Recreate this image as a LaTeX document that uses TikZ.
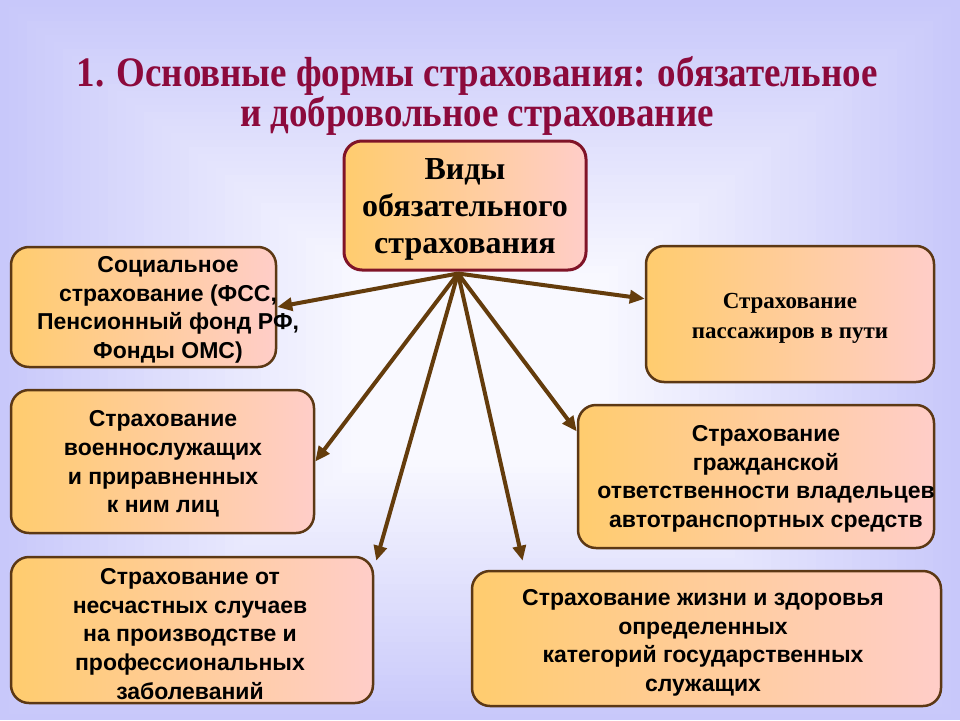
\documentclass[tikz,border=0pt]{standalone}
\usepackage{fontspec}
\setmainfont{Liberation Serif}
\setsansfont{Liberation Sans}
\newfontfamily\titlefont[FakeStretch=0.88]{Liberation Serif}
\usetikzlibrary{arrows.meta, positioning, calc}
\definecolor{boxleft}{RGB}{255,204,110}
\definecolor{boxright}{RGB}{255,205,200}
\definecolor{boxline}{RGB}{92,56,20}
\definecolor{hubline}{RGB}{128,20,40}
\definecolor{arrowc}{RGB}{100,60,12}
\definecolor{titlec}{RGB}{140,10,60}
\definecolor{bgout}{RGB}{200,200,250}
\definecolor{bgin}{RGB}{249,249,255}

\begin{document}
\begin{tikzpicture}[x=1pt, y=-1pt,
  box/.style={draw=boxline, line width=2.5pt, rounded corners=18pt,
              left color=boxleft, right color=boxright, inner sep=0pt},
  hubbox/.style={box, draw=hubline, line width=3pt},
  txt/.style={font=\sffamily\bfseries\fontsize{23}{28.6}\selectfont,
              align=center, inner sep=0pt},
  link/.style={draw=arrowc, line width=4pt, -{Triangle[length=15pt,width=13pt]}},
]
\useasboundingbox (0,0) rectangle (960,720);
% background
\foreach \i in {0,...,40}{
  \pgfmathsetmacro\mixv{100-2.5*\i}
  \fill[bgout!\mixv!bgin] ({\i*9},{\i*7}) rectangle ({960-\i*9},{720-\i*6.5});
}
\node[font=\titlefont\bfseries\fontsize{42}{39}\selectfont, text=titlec,
      align=center, inner sep=0pt] (title) at (477,96)
  {1. Основные формы страхования: обязательное\\и добровольное страхование};

% boxes
\node[hubbox, minimum width=242pt, minimum height=129pt] (ctr) at (465,205.5) {};
\node[box, minimum width=265pt, minimum height=120pt] (b1) at (143.5,307) {};
\node[box, minimum width=303pt, minimum height=143pt] (b2) at (162.5,461.5) {};
\node[box, minimum width=362pt, minimum height=146pt] (b3) at (192,630) {};
\node[box, minimum width=288pt, minimum height=136pt] (b4) at (790,314) {};
\node[box, minimum width=356pt, minimum height=143pt] (b5) at (756,476.5) {};
\node[box, minimum width=469pt, minimum height=135pt] (b6) at (706.5,638.5) {};

% texts
\node[align=center, inner sep=0pt, font=\bfseries\fontsize{32}{37}\selectfont] (tc) at (465,209)
  {Виды\\обязательного\\страхования};
\node[txt] (t1) at (168,310) {Социальное\\страхование (ФСС,\\Пенсионный фонд РФ,\\Фонды ОМС)};
\node[txt] (t2) at (163,464) {Страхование\\военнослужащих\\и приравненных\\к ним лиц};
\node[txt] (t3) at (190,634) {Страхование от\\несчастных случаев\\на производстве и\\профессиональных\\заболеваний};
\node[align=center, inner sep=0pt, font=\bfseries\fontsize{23}{30}\selectfont] (t4) at (790,318)
  {Страхование\\пассажиров в пути};
\node[txt] (t5) at (766,479) {Страхование\\гражданской\\ответственности владельцев\\автотранспортных средств};
\node[txt] (t6) at (703,643) {Страхование жизни и здоровья\\определенных\\категорий государственных\\служащих};

% arrows
\coordinate (hub) at ($(ctr.south)+(-7,2)$);
\draw[link] (hub) -- (b1.east);
\draw[link] (hub) -- ($(b4.north west)!0.39!(b4.south west)$);
\draw[link] (hub) -- (b2.east);
\draw[link] (hub) -- ($(b5.north west)!0.19!(b5.south west)$);
\draw[link] (hub) -- ([xshift=2pt,yshift=-5pt]b3.north east);
\draw[link] (hub) -- ([yshift=9pt]$(b6.north west)!0.11!(b6.north east)$);
\end{tikzpicture}
\end{document}
